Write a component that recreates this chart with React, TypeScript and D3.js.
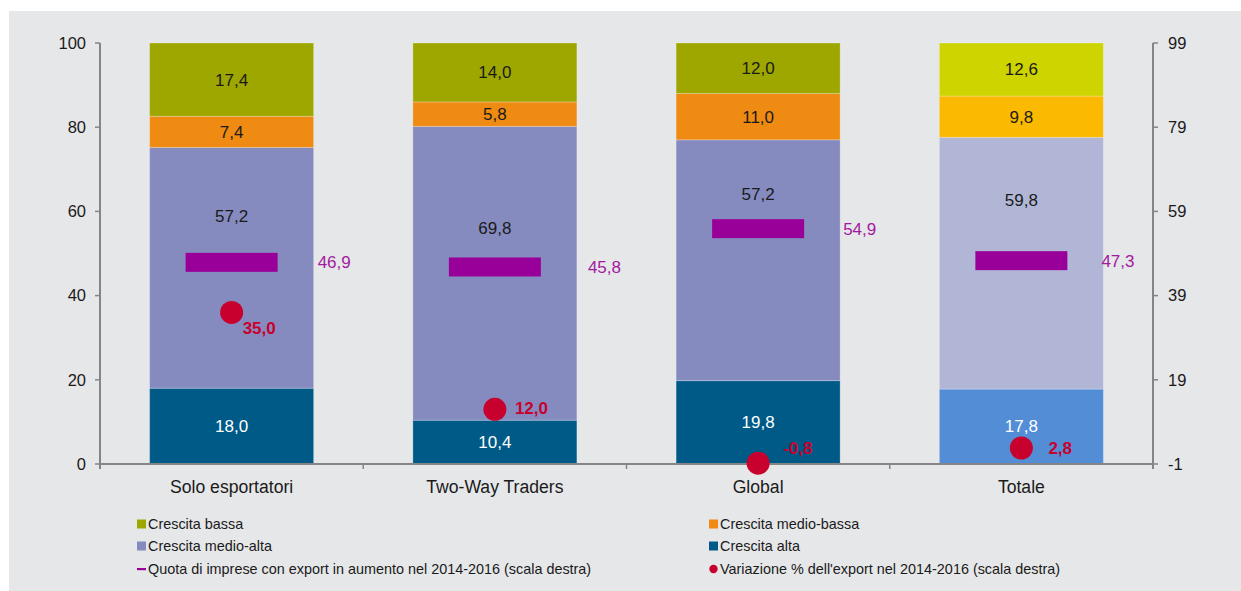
import React from "react";
import * as d3 from "d3";

const categories = ["Solo esportatori", "Two-Way Traders", "Global", "Totale"];
const seriesNames = ["Crescita alta", "Crescita medio-alta", "Crescita medio-bassa", "Crescita bassa"];
const crescitaAlta = [18.0, 10.4, 19.8, 17.8];
const crescitaMedioAlta = [57.2, 69.8, 57.2, 59.8];
const crescitaMedioBassa = [7.4, 5.8, 11.0, 9.8];
const crescitaBassa = [17.4, 14.0, 12.0, 12.6];
const quota = [46.9, 45.8, 54.9, 47.3];
const variazione = [35.0, 12.0, -0.8, 2.8];
const leftTicks = [0, 20, 40, 60, 80, 100];
const rightTicks = [-1, 19, 39, 59, 79, 99];

// styling / label placement
const colors = ["#005a87", "#858bbf", "#ef8a12", "#9ea700"];
const totalColors = ["#528dd6", "#b1b6d7", "#fbba00", "#cdd400"];
const labelColors = ["#ffffff", "#1a1a1a", "#1a1a1a", "#1a1a1a"];
const medioAltaLabelAt = [59.0, 56.0, 64.2, 62.8];
const quotaLabelDx = [40, 47, 39, 34];
const varLabelOffset = [
  [11, 16],
  [20, -1],
  [25, -15],
  [27, 0],
];

const W = 1241;
const H = 591;
const fmt = (v: number) => v.toFixed(1).replace(".", ",");
const FONT = "'Liberation Sans', Arial, sans-serif";

export default function App() {
  const x = d3.scaleBand<string>().domain(categories).range([100, 1153]).paddingInner(0.377).paddingOuter(0.1885);
  const yL = d3.scaleLinear().domain([0, 100]).range([464, 43]);
  const yR = d3.scaleLinear().domain([-1, 99]).range([464, 43]);
  const seriesData = [crescitaAlta, crescitaMedioAlta, crescitaMedioBassa, crescitaBassa];
  const rows = categories.map((c, i) => {
    const r: any = { cat: c };
    seriesNames.forEach((s, k) => (r[s] = seriesData[k][i]));
    return r;
  });
  const stacked = d3.stack<any>().keys(seriesNames)(rows);
  const bw = x.bandwidth();
  const axisColor = "#858585";

  const legendItems = [
    { name: "Crescita bassa", type: "sq", color: colors[3], col: 0, row: 0 },
    { name: "Crescita medio-bassa", type: "sq", color: colors[2], col: 1, row: 0 },
    { name: "Crescita medio-alta", type: "sq", color: colors[1], col: 0, row: 1 },
    { name: "Crescita alta", type: "sq", color: colors[0], col: 1, row: 1 },
    { name: "Quota di imprese con export in aumento nel 2014-2016 (scala destra)", type: "line", color: "#990099", col: 0, row: 2 },
    { name: "Variazione % dell'export nel 2014-2016 (scala destra)", type: "dot", color: "#c8002d", col: 1, row: 2 },
  ];
  const legX = [137, 709];
  const legY = [524, 546, 569];

  return (
    <svg width={W} height={H} style={{ position: "absolute", left: 0, top: 0 }} fontFamily={FONT}>
      <rect x={0} y={0} width={W} height={H} fill="#ffffff" />
      <rect x={9} y={11} width={W - 9} height={H - 11} fill="#e6e7e9" />

      {/* bars */}
      {stacked.map((layer, k) =>
        layer.map((d, i) => {
          const x0 = x(categories[i])!;
          const yTop = yL(d[1]);
          const yBot = yL(d[0]);
          const fill = i === 3 ? totalColors[k] : colors[k];
          return (
            <rect key={`${k}-${i}`} x={x0} y={yTop} width={bw} height={yBot - yTop} fill={fill} stroke="#ffffff" strokeOpacity={0.25} strokeWidth={1} />
          );
        })
      )}
      {stacked.map((layer, k) =>
        layer.map((d, i) => {
          const x0 = x(categories[i])!;
          const yTop = yL(d[1]);
          const yBot = yL(d[0]);
          const midY = k === 1 ? yL(medioAltaLabelAt[i]) : (yTop + yBot) / 2;
          return (
            <text key={`t${k}-${i}`} x={x0 + bw / 2} y={midY} dy="0.35em" textAnchor="middle" fontSize={17} fill={labelColors[k]}>
              {fmt(seriesData[k][i])}
            </text>
          );
        })
      )}

      {/* left axis */}
      <line x1={100} x2={100} y1={yL(100)} y2={yL(0) + 5} stroke={axisColor} strokeWidth={2} />
      {leftTicks.map((t) => (
        <g key={`l${t}`}>
          <line x1={95} x2={100} y1={yL(t)} y2={yL(t)} stroke={axisColor} strokeWidth={1.5} />
          <text x={86} y={yL(t)} dy="0.35em" textAnchor="end" fontSize={16.5} fill="#1a1a1a">{t}</text>
        </g>
      ))}
      {/* right axis */}
      <line x1={1153} x2={1153} y1={yR(99)} y2={yR(-1) + 5} stroke={axisColor} strokeWidth={2} />
      {rightTicks.map((t) => (
        <g key={`r${t}`}>
          <line x1={1153} x2={1158} y1={yR(t)} y2={yR(t)} stroke={axisColor} strokeWidth={1.5} />
          <text x={1168} y={yR(t)} dy="0.35em" textAnchor="start" fontSize={16.5} fill="#1a1a1a">{t}</text>
        </g>
      ))}
      {/* bottom axis */}
      <line x1={100} x2={1153} y1={yL(0)} y2={yL(0)} stroke={axisColor} strokeWidth={2} />
      {categories.map((c, i) => {
        const bx = x.range()[0] + x.step() * i;
        return <line key={`bt${i}`} x1={bx} x2={bx} y1={yL(0)} y2={yL(0) + 5} stroke={axisColor} strokeWidth={1.5} />;
      })}
      {categories.map((c) => (
        <text key={`c${c}`} x={x(c)! + bw / 2} y={487} dy="0.35em" textAnchor="middle" fontSize={17.6} fill="#1a1a1a">{c}</text>
      ))}

      {/* quota markers */}
      {categories.map((c, i) => {
        const cx = x(c)! + bw / 2;
        const cy = yR(quota[i]);
        return (
          <g key={`q${i}`}>
            <rect x={cx - 46} y={cy - 9.5} width={92} height={19} fill="#990099" />
            <text x={cx + 46 + quotaLabelDx[i]} y={cy} dy="0.35em" fontSize={17} fill="#a3199f">{fmt(quota[i])}</text>
          </g>
        );
      })}
      {/* variazione dots */}
      {categories.map((c, i) => {
        const cx = x(c)! + bw / 2;
        const cy = yR(variazione[i]);
        return (
          <g key={`v${i}`}>
            <circle cx={cx} cy={cy} r={11.5} fill="#c8002d" />
            <text x={cx + varLabelOffset[i][0]} y={cy + varLabelOffset[i][1]} dy="0.35em" fontSize={17} fontWeight="bold" fill="#c8002d">{fmt(variazione[i])}</text>
          </g>
        );
      })}

      {/* legend */}
      {legendItems.map((it) => {
        const lx = legX[it.col];
        const ly = legY[it.row];
        return (
          <g key={it.name}>
            {it.type === "sq" && <rect x={lx} y={ly - 4.5} width={9} height={9} fill={it.color} />}
            {it.type === "line" && <rect x={lx} y={ly - 1} width={9} height={2.2} fill={it.color} />}
            {it.type === "dot" && <circle cx={lx + 4.5} cy={ly} r={4.2} fill={it.color} />}
            <text x={lx + 11} y={ly} dy="0.35em" fontSize={14.4} fill="#1a1a1a">{it.name}</text>
          </g>
        );
      })}
    </svg>
  );
}
